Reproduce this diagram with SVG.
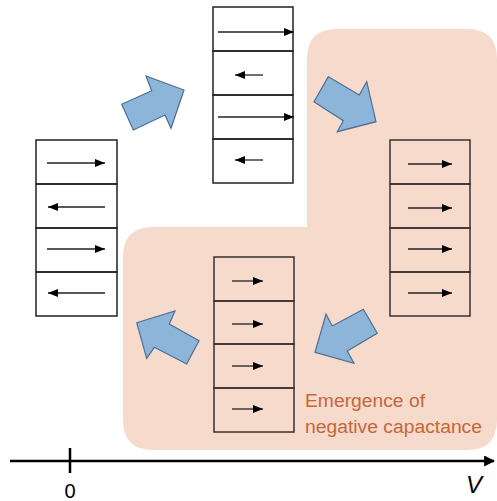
<svg xmlns="http://www.w3.org/2000/svg" width="497" height="501" viewBox="0 0 497 501">
<defs>
<marker id="ah" viewBox="0 0 10 8" refX="10" refY="4" markerWidth="10" markerHeight="8" markerUnits="userSpaceOnUse" orient="auto">
<path d="M0,0 L10,4 L0,8 Z" fill="#000"/>
</marker>
<marker id="axh" viewBox="0 0 10 10" refX="9" refY="5" markerWidth="11" markerHeight="11" markerUnits="userSpaceOnUse" orient="auto">
<path d="M0,0 L10,5 L0,10 Z" fill="#000"/>
</marker>
</defs>
<style>
.cell{fill:none;stroke:#222;stroke-width:1.5}
.cellp{fill:none;stroke:#3a302e;stroke-width:1.5}
.pa{stroke:#222;stroke-width:1.3;marker-end:url(#ah)}
.blk{fill:#8db5da;stroke:#4b6f93;stroke-width:1.2;stroke-linejoin:miter}
.lbl{font-family:"Liberation Sans",Arial,sans-serif;font-size:18px;fill:#c5673a}
</style>
<g id="region">
<path d="M337,29 H467 Q497,29 497,59 V420 Q497,450 467,450 H153 Q123,450 123,420 V257 Q123,227 153,227 H307 V59 Q307,29 337,29 Z" fill="#f6dacc"/>
</g>
<g id="stack-left">
<rect class="cell" x="36" y="140" width="81" height="44"/>
<rect class="cell" x="36" y="184" width="81" height="44"/>
<rect class="cell" x="36" y="228" width="81" height="44"/>
<rect class="cell" x="36" y="272" width="81" height="44"/>
<line class="pa" x1="47" y1="163" x2="105" y2="163"/>
<line class="pa" x1="105" y1="207" x2="48" y2="207"/>
<line class="pa" x1="47" y1="249" x2="105" y2="249"/>
<line class="pa" x1="105" y1="293" x2="48" y2="293"/>
</g>
<g id="stack-top">
<rect class="cell" x="213" y="7" width="80" height="44"/>
<rect class="cell" x="213" y="51" width="80" height="44"/>
<rect class="cell" x="213" y="95" width="80" height="44"/>
<rect class="cell" x="213" y="139" width="80" height="44"/>
<line class="pa" x1="218" y1="32" x2="294" y2="32"/>
<line class="pa" x1="263" y1="75" x2="235" y2="75"/>
<line class="pa" x1="218" y1="117" x2="294" y2="117"/>
<line class="pa" x1="263" y1="160" x2="235" y2="160"/>
</g>
<g id="stack-right">
<rect class="cellp" x="390" y="140" width="80" height="44"/>
<rect class="cellp" x="390" y="184" width="80" height="44"/>
<rect class="cellp" x="390" y="228" width="80" height="44"/>
<rect class="cellp" x="390" y="272" width="80" height="44"/>
<line class="pa" x1="408" y1="164" x2="452" y2="164"/>
<line class="pa" x1="408" y1="208" x2="452" y2="208"/>
<line class="pa" x1="408" y1="249" x2="452" y2="249"/>
<line class="pa" x1="408" y1="293" x2="452" y2="293"/>
</g>
<g id="stack-bottom">
<rect class="cellp" x="214" y="257" width="80" height="44"/>
<rect class="cellp" x="214" y="301" width="80" height="43"/>
<rect class="cellp" x="214" y="344" width="80" height="44"/>
<rect class="cellp" x="214" y="388" width="80" height="44"/>
<line class="pa" x1="232" y1="281" x2="263" y2="281"/>
<line class="pa" x1="232" y1="324" x2="263" y2="324"/>
<line class="pa" x1="232" y1="366" x2="263" y2="366"/>
<line class="pa" x1="232" y1="409" x2="263" y2="409"/>
</g>
<g id="connectors">
<polygon class="blk" points="121.7,104.3 151.7,90.7 146,76 184,90 171,128.3 165,115 133.3,130"/>
<polygon class="blk" points="328.3,76.7 359.3,95 366.7,81.7 376,121.7 337.3,131.7 343.3,120.7 314,101.7"/>
<polygon class="blk" points="363.3,309.3 377.3,333.3 347.3,351 354,363.3 315,352.3 326,314 332.3,326"/>
<polygon class="blk" points="136.7,322.7 175,311 169.3,324 199,340.7 186.7,364 154.3,347.3 146.7,358.3"/>
</g>
<g id="label">
<text class="lbl" x="305" y="407" textLength="120" lengthAdjust="spacingAndGlyphs">Emergence of</text>
<text class="lbl" x="305" y="433" textLength="177" lengthAdjust="spacingAndGlyphs">negative capactance</text>
</g>
<g id="axis">
<line x1="10" y1="461" x2="494" y2="461" stroke="#000" stroke-width="2.5" marker-end="url(#axh)"/>
<line x1="70" y1="448" x2="70" y2="473" stroke="#000" stroke-width="2.5"/>
<text x="70" y="498" text-anchor="middle" font-family="Liberation Sans, Arial, sans-serif" font-size="20" fill="#000">0</text>
<text x="474" y="493" text-anchor="middle" font-family="Liberation Sans, Arial, sans-serif" font-size="24" font-style="italic" fill="#000">V</text>
</g>
</svg>
